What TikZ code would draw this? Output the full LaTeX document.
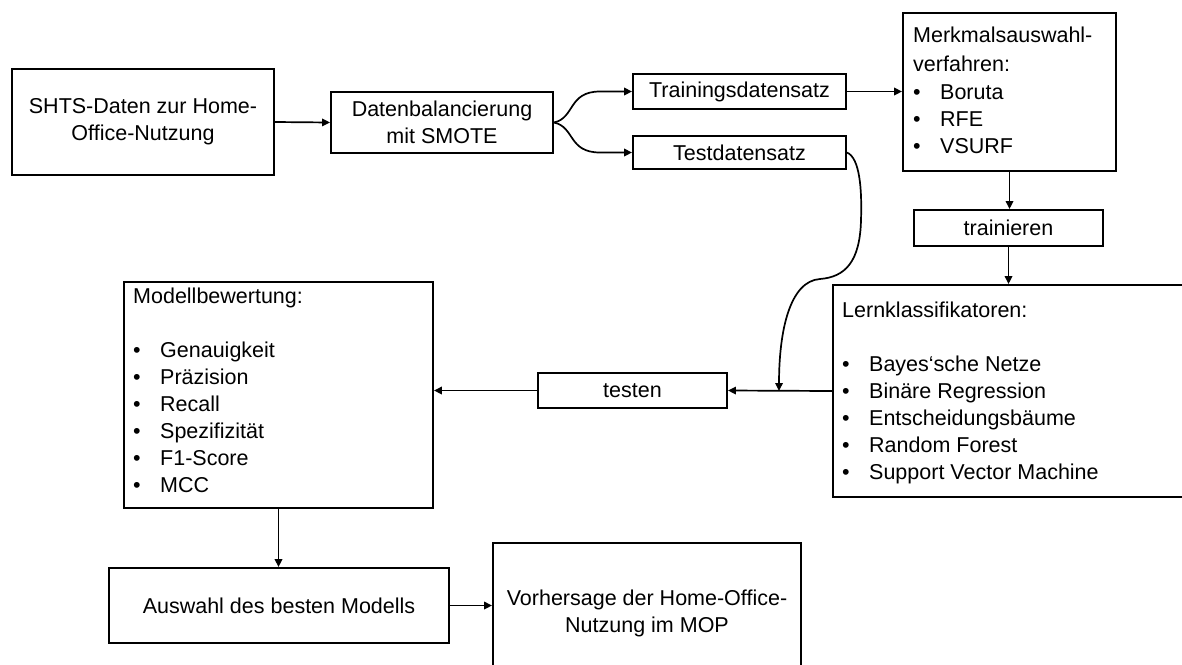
\documentclass[tikz,border=0pt]{standalone}
\usepackage{fontspec}
\setmainfont{Liberation Sans}
\usetikzlibrary{arrows.meta,calc}
\newcommand\diafont{\fontsize{21.5}{27}\selectfont}
\newcommand\bul[1]{\makebox[27pt][l]{\textbullet}#1}
\newcommand\lineat[4]{\node[txt] (#1) at (#2,#3) {#4};}
\begin{document}
\begin{tikzpicture}[x=1pt,y=-1pt,
  box/.style={draw=black,line width=1.9pt,rectangle,inner sep=0pt,align=center,font=\diafont},
  arr/.style={line width=1.7pt,-{Triangle[length=8pt,width=7.5pt]}},
  txt/.style={anchor=base west,inner sep=0pt,font=\diafont},
]
\useasboundingbox (0,0) rectangle (1182,664);
\clip (0,0) rectangle (1182,664);

% boxes
\node[box,minimum width=262,minimum height=106] (shts) at (143,122) {SHTS-Daten zur Home-\\Office-Nutzung};
\node[box,minimum width=222,minimum height=61] (smote) at (442,122.5) {Datenbalancierung\\mit SMOTE};
\node[box,minimum width=213,minimum height=35] (train) at (739.5,91.5) {Trainingsdatensatz};
\node[box,minimum width=213,minimum height=33] (test) at (739.5,152.5) {Testdatensatz};
\node[box,minimum width=213,minimum height=158] (merk) at (1009.5,92) {};
\node[box,minimum width=189,minimum height=36] (trn) at (1008.5,228) {trainieren};
\node[box,minimum width=353,minimum height=212] (lern) at (1009.5,391) {};
\node[box,minimum width=189,minimum height=35] (testen) at (632.5,390.5) {testen};
\node[box,minimum width=309,minimum height=226] (modell) at (278.5,395) {};
\node[box,minimum width=340,minimum height=75] (ausw) at (279,605.5) {Auswahl des besten Modells};
\node[box,minimum width=308,minimum height=140] (vor) at (647,613) {Vorhersage der Home-Office-\\Nutzung im MOP};

% text of the list boxes
\lineat{m1}{913}{42}{Merkmalsauswahl-}
\lineat{m2}{913}{71}{verfahren:}
\lineat{m3}{913}{99}{\bul{Boruta}}
\lineat{m4}{913}{126}{\bul{RFE}}
\lineat{m5}{913}{153}{\bul{VSURF}}

\lineat{l1}{842}{317}{Lernklassifikatoren:}
\lineat{l2}{842}{371}{\bul{Bayes‘sche Netze}}
\lineat{l3}{842}{398}{\bul{Binäre Regression}}
\lineat{l4}{842}{425}{\bul{Entscheidungsbäume}}
\lineat{l5}{842}{452}{\bul{Random Forest}}
\lineat{l6}{842}{479}{\bul{Support Vector Machine}}

\lineat{e1}{133}{303}{Modellbewertung:}
\lineat{e2}{133}{357}{\bul{Genauigkeit}}
\lineat{e3}{133}{384}{\bul{Präzision}}
\lineat{e4}{133}{411}{\bul{Recall}}
\lineat{e5}{133}{438}{\bul{Spezifizität}}
\lineat{e6}{133}{465}{\bul{F1-Score}}
\lineat{e7}{133}{492}{\bul{MCC}}

% connectors
\coordinate (hit) at (779,391);
\draw[arr] (shts.east) -- (smote.west);
\draw[arr] (smote.east) .. controls (575,118) and (568,91.5) .. (600,91.5) -- (train.west);
\draw[arr] (smote.east) .. controls (575,127) and (568,152.5) .. (600,152.5) -- (test.west);
\draw[arr] (train.east) -- (train.east -| merk.west);
\draw[arr] (merk.south) -- (merk.south |- trn.north);
\draw[arr] (trn.south) -- (trn.south |- lern.north);
\draw[arr] (lern.west) -- (testen.east);
\draw[arr] (test.east) .. controls (860,158) and (862,190) .. (861,220)
  .. controls (860,262) and (845,277) .. (820,279)
  .. controls (790,281) and (779,330) .. (hit);
\draw[arr] (testen.west) -- (testen.west -| modell.east);
\draw[arr] (modell.south) -- (modell.south |- ausw.north);
\draw[arr] (ausw.east) -- (ausw.east -| vor.west);
\end{tikzpicture}
\end{document}
